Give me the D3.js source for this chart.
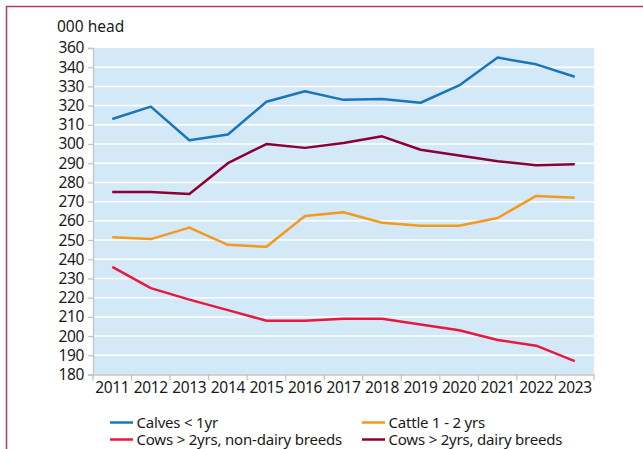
<!DOCTYPE html>
<html>
<meta charset="utf-8">
<head>
    <title>Cattle numbers</title>
    <script src="https://d3js.org/d3.v7.min.js" charset="utf-8"></script>
    <style>
    body { margin: 0; background: #fff; }
    svg text { font-family: "Noto Sans", sans-serif; fill: #1a1a1a; }
    </style>
</head>
<body>
    <script>

    // Data (000 head)
    var years = ["2011", "2012", "2013", "2014", "2015", "2016", "2017",
                 "2018", "2019", "2020", "2021", "2022", "2023"];
    var calves = [313, 319.5, 302, 305, 322, 327.5, 323, 323.5, 321.5, 330.5, 345, 341.5, 335];
    var cattle12 = [251.5, 250.5, 256.5, 247.5, 246.5, 262.5, 264.5, 259, 257.5, 257.5, 261.5, 273, 272];
    var cowsBeef = [236, 225, 219, 213.5, 208, 208, 209, 209, 206, 203, 198, 195, 187];
    var cowsDairy = [275, 275, 274, 290, 300, 298, 300.5, 304, 297, 294, 291, 289, 289.5];

    // y ticks as printed on the original (the top one reads 360)
    var yTicks = [180, 190, 200, 210, 220, 230, 240, 250, 260, 270, 280, 290, 300, 310, 320, 330, 340, 350];
    var yTickLabels = ["180", "190", "200", "210", "220", "230", "240", "250", "260",
                       "270", "280", "290", "300", "310", "320", "330", "340", "360"];

    var seriesNames = ["Calves < 1yr", "Cattle 1 - 2 yrs", "Cows > 2yrs, non-dairy breeds", "Cows > 2yrs, dairy breeds"];
    var seriesColors = ["#1b75bb", "#f39a1e", "#e8193f", "#8a0034"];
    var seriesValues = [calves, cattle12, cowsBeef, cowsDairy];

    var width = 643;
    var height = 449;
    var margin = {top: 48, left: 93, right: 49, bottom: 74};

    var svg = d3.select("body")
        .append("svg")
        .attr("width", width)
        .attr("height", height);

    // Outer frame (only top and left edges are visible)
    svg.append("rect")
        .attr("x", 6.5)
        .attr("y", 6.5)
        .attr("width", 700)
        .attr("height", 500)
        .attr("fill", "none")
        .attr("stroke", "#b23a62")
        .attr("stroke-width", 1.5);

    var x = d3.scaleBand()
        .domain(years)
        .range([margin.left, width - margin.right]);

    var y = d3.scaleLinear()
        .domain([180, 350])
        .range([height - margin.bottom - 0.5, margin.top]);

    // Plot background
    svg.append("rect")
        .attr("x", margin.left)
        .attr("y", margin.top)
        .attr("width", x.range()[1] - margin.left)
        .attr("height", y(180) - margin.top)
        .attr("fill", "#d4e9f7");

    // Gridlines
    svg.append("g")
        .selectAll("line")
        .data(yTicks.slice(1, -1))
        .enter()
        .append("line")
        .attr("x1", margin.left)
        .attr("x2", x.range()[1])
        .attr("y1", function(d) { return y(d); })
        .attr("y2", function(d) { return y(d); })
        .attr("stroke", "#fff")
        .attr("stroke-width", 1.5);

    // Y axis
    var yAxis = svg.append("g")
        .attr("transform", "translate(" + margin.left + ",0)")
        .call(d3.axisLeft(y)
            .tickValues(yTicks)
            .tickFormat(function(d, i) { return yTickLabels[i]; })
            .tickSize(5)
            .tickPadding(4));

    // X axis: labels at band centres, tick marks at band edges
    var xAxis = svg.append("g")
        .attr("transform", "translate(0," + y(180) + ")")
        .call(d3.axisBottom(x).tickSize(0).tickPadding(7));

    xAxis.selectAll(".xedge")
        .data(years.map(function(d) { return x(d); }).concat([x.range()[1]]))
        .enter()
        .append("line")
        .attr("class", "xedge")
        .attr("x1", function(d) { return d; })
        .attr("x2", function(d) { return d; })
        .attr("y1", 0)
        .attr("y2", 6)
        .attr("stroke", "#c4c4c4")
        .attr("stroke-width", 1.3);

    [yAxis, xAxis].forEach(function(ax) {
        ax.select(".domain").attr("stroke", "#c4c4c4").attr("stroke-width", 1.3);
        ax.selectAll(".tick line").attr("stroke", "#c4c4c4").attr("stroke-width", 1.3);
        ax.selectAll("text")
            .style("font-family", "'Noto Sans', sans-serif")
            .style("font-size", "15.5px")
            .style("letter-spacing", "-0.35px")
            .attr("fill", "#1a1a1a");
    });

    // Unit label
    svg.append("text")
        .attr("x", 57)
        .attr("y", 32)
        .style("font-size", "15.5px")
        .text("000 head");

    // Lines
    var line = d3.line()
        .x(function(d, i) { return x(years[i]) + x.bandwidth() / 2; })
        .y(function(d) { return y(d); });

    svg.append("g")
        .selectAll("path")
        .data(seriesValues)
        .enter()
        .append("path")
        .attr("d", line)
        .attr("fill", "none")
        .attr("stroke", function(d, i) { return seriesColors[i]; })
        .attr("stroke-width", 2.5)
        .attr("stroke-linejoin", "round");

    // Legend, two columns
    var legendPos = [[110, 422.5], [362, 422.5], [110, 439.5], [362, 439.5]];
    var legend = svg.append("g")
        .selectAll("g")
        .data(seriesNames)
        .enter()
        .append("g")
        .attr("transform", function(d, i) { return "translate(" + legendPos[i][0] + "," + legendPos[i][1] + ")"; });

    legend.append("line")
        .attr("x1", 0)
        .attr("x2", 23)
        .attr("stroke", function(d, i) { return seriesColors[i]; })
        .attr("stroke-width", 2.5);

    legend.append("text")
        .attr("x", 26.5)
        .attr("y", 5.5)
        .style("font-size", "15px")
        .style("letter-spacing", "-0.2px")
        .text(function(d) { return d; });

    </script>
</body>
</html>
